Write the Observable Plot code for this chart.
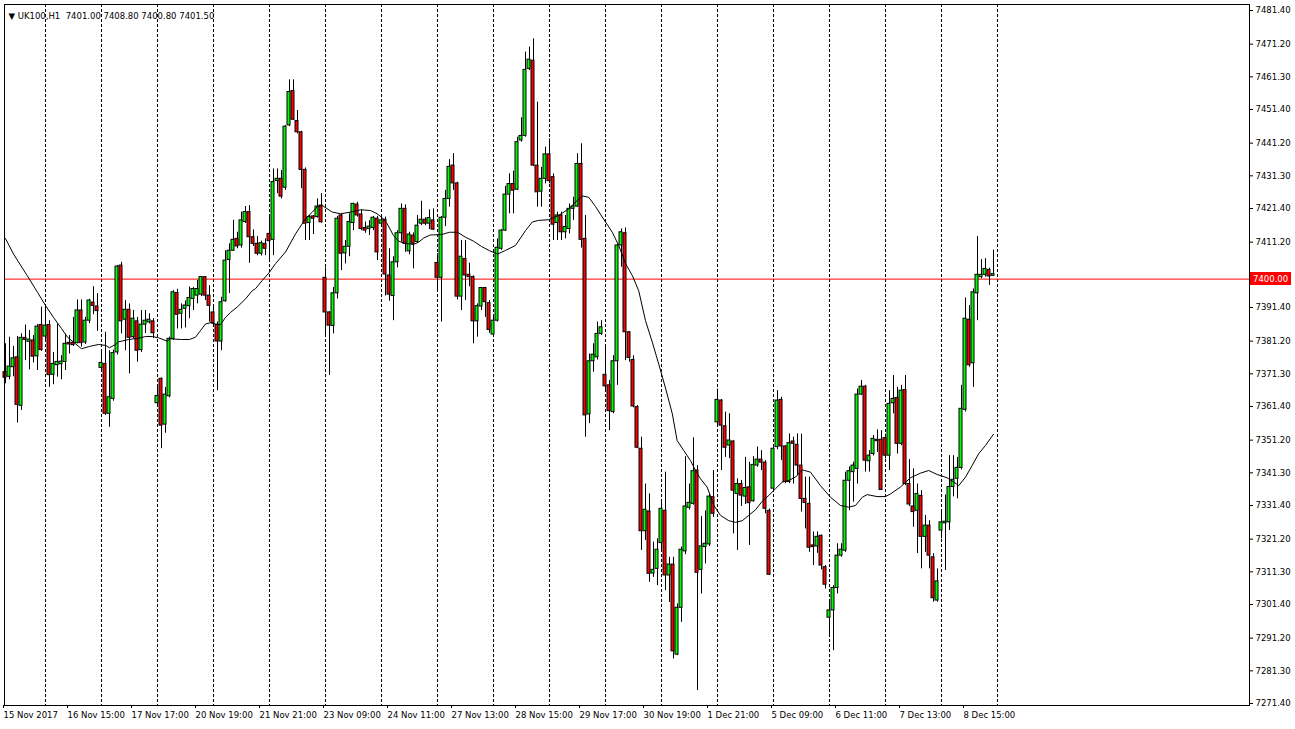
<!DOCTYPE html>
<html><head><meta charset="utf-8">
<script src="https://cdn.jsdelivr.net/npm/d3@7"></script>
<script src="https://cdn.jsdelivr.net/npm/@observablehq/plot@0.6"></script>
<style>body{margin:0;background:#fff;overflow:hidden}</style>
</head><body><div id="chart"></div>
<script>
const openP = [
7371.8,7370.4,7373.3,7376.3,7361.6,7382.2,7381.0,7381.4,7376.6,7386.1,
7382.6,7386.1,7371.0,7373.9,7374.2,7374.9,7380.7,7380.7,7380.6,7390.5,
7380.8,7387.4,7392.9,7391.7,7373.1,7374.3,7359.2,7363.7,7377.8,7404.1,
7387.7,7390.7,7382.4,7387.2,7378.5,7386.2,7386.9,7387.2,7362.4,7369.8,
7355.9,7364.5,7381.9,7395.8,7389.5,7391.0,7391.8,7394.0,7395.0,7395.3,
7400.6,7395.0,7389.9,7386.1,7381.1,7393.3,7405.8,7408.6,7412.2,7410.2,
7417.3,7420.3,7412.7,7410.7,7407.7,7410.7,7413.7,7411.9,7429.7,7430.4,
7427.7,7446.6,7457.0,7447.9,7444.5,7433.1,7417.0,7419.0,7418.8,7422.3,
7400.4,7389.9,7385.8,7395.7,7419.3,7407.8,7409.8,7417.0,7422.6,7419.6,
7415.5,7415.2,7415.5,7418.3,7416.8,7418.0,7401.1,7394.9,7405.1,7413.9,
7421.3,7408.4,7413.2,7411.2,7416.8,7418.0,7416.8,7417.8,7404.9,7400.4,
7418.6,7424.3,7434.4,7429.0,7394.7,7406.1,7401.3,7400.6,7387.2,7391.7,
7397.3,7392.7,7383.2,7387.4,7409.2,7414.7,7425.6,7428.8,7427.1,7442.0,
7443.4,7463.7,7466.2,7434.4,7426.5,7430.4,7437.8,7430.9,7417.0,7419.3,
7414.2,7415.2,7421.3,7422.0,7434.9,7412.2,7359.0,7375.1,7376.3,7383.4,
7371.0,7367.8,7359.7,7375.1,7410.2,7413.9,7383.9,7375.5,7361.2,7348.6,
7323.6,7329.6,7310.8,7312.2,7320.0,7329.8,7310.2,7313.5,7286.2,7300.4,
7317.5,7330.7,7331.9,7342.0,7311.9,7318.8,7319.6,7333.9,7356.6,7363.2,
7355.4,7349.6,7350.8,7334.9,7337.9,7334.1,7336.9,7332.7,7343.5,7345.3,
7344.4,7329.8,7336.5,7349.1,7363.4,7349.3,7338.5,7350.8,7349.8,7343.5,
7333.4,7331.9,7319.3,7319.0,7322.2,7312.7,7297.4,7299.6,7306.4,7316.2,
7317.7,7338.9,7341.5,7342.5,7365.0,7367.4,7344.8,7347.0,7351.3,7351.3,
7351.8,7346.5,7362.4,7364.0,7350.1,7366.4,7337.9,7331.1,7329.8,7334.3,
7321.9,7325.3,7315.7,7302.6,7323.8,7326.0,7326.3,7337.0,7339.5,7342.8,
7360.4,7387.7,7374.5,7395.7,7400.6,7401.3,7402.8,7401.0];
const highP = [
7380.4,7382.4,7379.6,7382.6,7383.4,7386.1,7384.4,7382.9,7386.2,7391.5,
7392.0,7387.4,7377.8,7386.4,7376.8,7383.4,7382.9,7388.4,7393.7,7393.7,
7388.4,7393.9,7397.7,7395.6,7378.0,7383.9,7378.3,7378.5,7404.1,7405.1,
7393.5,7392.5,7390.5,7388.4,7390.5,7390.5,7389.5,7388.0,7367.5,7370.0,
7367.2,7382.4,7396.5,7396.9,7392.5,7393.4,7397.6,7397.5,7399.6,7400.8,
7400.8,7398.0,7392.0,7387.0,7394.5,7408.6,7410.7,7417.8,7414.2,7420.3,
7422.0,7422.3,7414.9,7412.9,7411.5,7412.2,7418.8,7433.4,7433.4,7432.9,
7446.5,7460.4,7460.4,7451.1,7444.8,7433.7,7419.3,7419.3,7424.3,7425.9,
7403.4,7390.1,7397.5,7419.0,7419.6,7411.7,7419.8,7423.0,7423.3,7421.0,
7417.3,7417.7,7419.0,7419.0,7419.3,7418.8,7409.2,7406.8,7414.7,7422.8,
7422.5,7414.2,7414.0,7419.3,7423.6,7418.6,7421.0,7421.3,7407.7,7419.0,
7426.9,7436.2,7438.0,7429.4,7411.7,7411.7,7404.8,7401.0,7392.5,7397.5,
7397.5,7393.5,7388.4,7412.2,7415.0,7428.1,7431.9,7432.7,7443.0,7448.9,
7468.8,7470.3,7472.8,7453.6,7433.9,7440.0,7442.5,7431.9,7420.3,7420.3,
7419.3,7422.8,7424.8,7438.0,7441.0,7419.3,7377.3,7380.4,7387.0,7387.4,
7380.0,7369.3,7376.8,7410.6,7415.2,7415.5,7384.0,7376.8,7361.7,7352.1,
7337.9,7334.9,7320.3,7321.3,7332.9,7341.5,7315.7,7315.7,7301.6,7318.8,
7346.2,7337.9,7351.9,7343.5,7328.1,7329.8,7334.9,7342.0,7366.7,7363.5,
7359.7,7359.2,7351.0,7339.5,7339.0,7346.0,7344.5,7346.2,7349.1,7348.0,
7345.0,7330.3,7349.3,7366.2,7364.2,7349.5,7353.1,7352.1,7353.1,7353.0,
7340.0,7340.0,7323.4,7323.4,7322.5,7313.2,7302.6,7307.1,7319.8,7319.8,
7341.5,7343.1,7344.5,7366.7,7369.3,7367.8,7348.0,7352.6,7354.3,7354.1,
7353.0,7366.2,7370.8,7367.2,7367.8,7370.8,7345.3,7342.5,7337.9,7335.9,
7328.4,7326.8,7316.8,7312.2,7329.8,7334.6,7346.5,7346.5,7346.0,7367.8,
7394.3,7392.0,7397.0,7412.9,7405.9,7406.2,7403.3,7408.8];
const lowP = [
7368.3,7369.5,7370.4,7356.4,7360.2,7375.3,7372.5,7374.6,7372.3,7378.1,
7381.0,7367.2,7368.0,7370.3,7369.5,7372.3,7377.3,7379.6,7380.4,7379.4,
7380.2,7386.5,7389.2,7384.2,7372.0,7358.7,7355.1,7363.0,7377.0,7383.4,
7378.3,7371.3,7381.9,7374.8,7377.8,7383.5,7386.4,7382.0,7362.0,7348.6,
7353.3,7364.0,7381.5,7384.9,7384.9,7385.2,7388.0,7390.5,7392.5,7394.7,
7393.5,7387.0,7385.4,7366.2,7378.3,7393.0,7395.6,7408.4,7409.2,7409.4,
7416.9,7404.8,7409.9,7407.1,7407.0,7407.1,7405.6,7407.1,7425.9,7424.3,
7426.9,7446.2,7448.1,7444.0,7427.4,7411.7,7411.7,7413.5,7418.5,7417.0,
7382.4,7370.8,7383.4,7394.0,7402.6,7404.6,7406.8,7414.7,7418.8,7414.7,
7413.9,7413.2,7414.7,7405.6,7416.5,7394.9,7393.3,7387.4,7403.4,7411.2,
7408.1,7407.4,7403.1,7410.9,7416.2,7416.2,7415.0,7414.7,7396.0,7387.0,
7415.9,7421.8,7426.9,7393.7,7390.5,7393.5,7397.7,7380.4,7382.4,7390.5,
7388.4,7383.6,7382.4,7387.0,7408.7,7414.5,7419.8,7419.8,7426.9,7441.5,
7443.0,7463.2,7434.1,7421.8,7421.8,7428.9,7428.9,7411.7,7411.7,7411.7,
7412.2,7413.7,7417.8,7421.8,7409.4,7352.1,7356.2,7371.8,7375.5,7382.9,
7366.0,7354.1,7359.2,7367.8,7403.6,7375.3,7374.8,7361.0,7348.6,7317.8,
7320.8,7308.1,7309.6,7307.1,7318.0,7305.6,7302.0,7284.9,7285.9,7296.0,
7316.5,7330.0,7331.5,7275.3,7304.6,7313.7,7319.0,7327.8,7355.0,7342.0,
7346.0,7345.6,7322.8,7317.8,7331.1,7331.7,7319.3,7332.4,7343.0,7342.0,
7328.9,7310.2,7336.0,7348.3,7345.0,7338.0,7338.0,7337.9,7340.5,7329.4,
7324.3,7317.2,7313.2,7316.9,7311.9,7306.1,7291.5,7287.4,7304.6,7315.7,
7317.2,7329.8,7332.4,7337.9,7364.8,7341.5,7341.5,7346.4,7347.5,7336.0,
7345.5,7342.0,7359.2,7347.0,7349.5,7337.4,7331.1,7324.8,7316.8,7312.2,
7317.2,7312.2,7302.1,7302.1,7321.3,7311.7,7323.8,7334.0,7333.4,7342.2,
7359.7,7373.3,7367.2,7387.4,7400.1,7400.6,7398.1,7400.8];
const closeP = [
7370.1,7373.5,7376.0,7361.9,7382.2,7381.6,7381.7,7376.5,7385.6,7378.5,
7385.9,7370.9,7374.3,7374.9,7375.0,7380.4,7380.2,7380.0,7390.5,7380.6,
7387.4,7393.5,7391.9,7390.3,7374.6,7359.2,7364.2,7377.6,7403.8,7387.2,
7390.7,7382.2,7388.0,7378.3,7386.2,7387.4,7387.7,7383.6,7364.6,7355.6,
7365.0,7381.9,7396.0,7389.2,7390.7,7392.0,7394.3,7397.0,7397.0,7400.6,
7395.0,7391.9,7386.6,7381.1,7393.0,7405.6,7408.6,7411.9,7409.9,7417.8,
7420.3,7412.7,7410.7,7407.7,7410.9,7409.2,7411.5,7429.4,7430.4,7425.0,
7446.2,7456.7,7448.3,7444.5,7433.1,7416.8,7418.8,7418.3,7422.0,7417.2,
7389.9,7385.9,7395.7,7418.3,7407.7,7409.8,7417.3,7422.8,7419.3,7415.2,
7414.7,7415.9,7418.6,7408.1,7417.8,7401.4,7395.3,7405.1,7413.9,7421.3,
7410.7,7413.5,7410.7,7416.2,7418.0,7416.8,7418.5,7415.0,7400.4,7418.6,
7424.3,7434.0,7429.0,7394.7,7406.8,7401.1,7400.6,7387.2,7391.8,7397.3,
7393.0,7384.6,7387.4,7409.5,7414.7,7425.6,7428.8,7426.8,7441.5,7443.4,
7463.4,7466.5,7434.4,7426.3,7430.4,7437.8,7429.7,7416.5,7419.3,7414.2,
7415.8,7421.3,7422.0,7434.9,7411.9,7358.7,7375.1,7377.1,7383.4,7385.4,
7367.5,7360.0,7375.1,7410.2,7414.2,7383.9,7376.1,7361.4,7348.9,7323.6,
7330.1,7310.7,7311.9,7318.0,7330.4,7310.2,7313.5,7287.2,7300.4,7318.0,
7331.1,7332.2,7341.8,7311.0,7319.0,7319.8,7334.1,7328.9,7363.4,7355.6,
7348.9,7351.1,7335.9,7337.9,7334.4,7336.7,7332.1,7343.7,7345.3,7344.4,
7330.4,7310.4,7348.6,7363.2,7349.3,7338.5,7350.3,7350.1,7343.5,7333.4,
7332.2,7318.6,7318.8,7321.9,7313.2,7307.4,7299.6,7306.4,7316.2,7318.0,
7338.9,7341.8,7343.5,7365.0,7367.4,7345.0,7346.5,7351.6,7350.9,7336.1,
7346.5,7362.2,7363.7,7350.1,7366.2,7337.9,7331.7,7329.4,7334.9,7321.9,
7325.3,7316.2,7303.3,7308.4,7326.3,7326.5,7337.0,7339.2,7342.8,7360.7,
7388.0,7373.9,7396.0,7401.3,7401.3,7403.1,7400.8,7401.5];

// moving average line, read at sampled bar positions
const maBar = [0,2,5.4,8,10,12,14,15.5,17,19,21,23.3,25,26,27.5,28.3,30.8,33.3,35,36.7,38.3,40.4,41.2,44,46,47.5,48.75,50,51.25,52.5,53.75,55,56.25,57.9,60,61.7,62.5,64.2,66,67.5,70,72.5,75,76.7,78,79.2,81.7,83.75,86.25,88.75,91.25,92.9,94.2,95.4,97,98.3,99.6,102,103.3,104.6,106.25,107,109,111,113,115,117,119,121,123,125,127.5,130,131.7,133.3,135.8,138.3,140.8,142.9,144.2,145.8,147.5,150,151.7,153.3,155,156.7,158.3,160,161.7,163.3,165,166.7,167.9,169.6,171.25,172.5,173.75,175.4,177.1,178.75,180.8,182.5,184.2,185.8,187.5,189.2,190.8,192.5,194.2,195.8,197.5,199.2,201.25,203.75,206.25,208.75,210.8,212.5,214.2,215.4,217.9,220,221.25,223.75,226.25,228.75,230.8,232.9,235.4,237.1,238.3,240,241.7,243.3,245,247];
const maVal = [7412.3,7407.6,7401.1,7396.0,7392.0,7388.4,7385.0,7382.4,7380.9,7378.9,7379.6,7380.2,7379.9,7379.2,7380.2,7381.0,7381.7,7382.1,7382.6,7382.6,7382.2,7381.2,7381.9,7381.7,7381.7,7382.4,7384.4,7386.4,7386.8,7386.4,7386.2,7388.4,7389.9,7391.5,7394.0,7396.5,7397.1,7399.6,7402.1,7404.7,7408.2,7413.7,7418.3,7420.3,7422.0,7422.3,7420.3,7419.8,7420.3,7421.0,7420.8,7419.8,7418.6,7416.8,7413.2,7411.5,7410.9,7410.5,7411.2,7412.5,7413.4,7413.4,7413.5,7414.2,7414.2,7412.7,7411.5,7409.9,7408.6,7407.6,7408.7,7410.2,7414.7,7417.3,7417.8,7418.0,7419.3,7421.3,7423.8,7425.2,7424.8,7422.0,7417.3,7414.2,7410.2,7404.7,7401.1,7396.5,7387.4,7380.9,7374.3,7367.0,7359.2,7351.1,7348.0,7345.0,7342.0,7339.5,7337.0,7331.4,7328.4,7326.8,7326.3,7326.8,7328.4,7330.1,7332.7,7334.4,7336.5,7338.5,7339.0,7340.0,7342.2,7341.5,7337.4,7333.9,7331.4,7330.9,7331.4,7333.9,7334.7,7334.1,7334.1,7334.9,7337.0,7339.8,7341.2,7342.0,7340.8,7339.8,7338.5,7337.4,7340.0,7343.6,7347.1,7349.6,7353.0];

const gridBars = [10,24,38,52,66,80,94,108,122,136,150,164,178,192,206,220,234,248];
const timeBars = [0,16,32,48,64,80,96,112,128,144,160,176,192,208,224,240];
const timeLabels = ["15 Nov 2017","16 Nov 15:00","17 Nov 17:00","20 Nov 19:00","21 Nov 21:00","23 Nov 09:00","24 Nov 11:00","27 Nov 13:00","28 Nov 15:00","29 Nov 17:00","30 Nov 19:00","1 Dec 21:00","5 Dec 09:00","6 Dec 11:00","7 Dec 13:00","8 Dec 15:00"];
const priceTicks = [7481.4,7471.2,7461.3,7451.4,7441.2,7431.3,7421.4,7411.2,7391.4,7381.2,7371.3,7361.4,7351.2,7341.3,7331.4,7321.2,7311.3,7301.4,7291.2,7281.3,7271.4];
const priceLabels = ["7481.40","7471.20","7461.30","7451.40","7441.20","7431.30","7421.40","7411.20","7391.40","7381.20","7371.30","7361.40","7351.20","7341.30","7331.40","7321.20","7311.30","7301.40","7291.20","7281.30","7271.40"];
const levelPrice = 7400.00;
const titleText = "\u25BC UK100,H1  7401.00 7408.80 7400.80 7401.50";

const bars = openP.map((o, i) => ({i, open: o, high: highP[i], low: lowP[i], close: closeP[i]}));
const ma = maBar.map((b, k) => ({b, v: maVal[k]}));

const FONT = "'DejaVu Sans', Tahoma, sans-serif";
const FS = 8.5;

function priceTag(index, scales, values, dimensions) {
  const y = Math.round(scales.y(levelPrice));
  const x = dimensions.width - dimensions.marginRight;
  const g = d3.create("svg:g");
  g.append("rect").attr("x", x + 1).attr("y", y - 7).attr("width", 41).attr("height", 13).attr("fill", "#ff0000");
  g.append("text").attr("x", x + 4).attr("y", y).attr("dy", "0.32em")
    .attr("text-anchor", "start")
    .attr("fill", "#ffffff").attr("font-family", FONT).attr("font-size", FS).text(levelPrice.toFixed(2));
  return g.node();
}

const chart = Plot.plot({
  width: 1295,
  height: 729,
  marginLeft: 4,
  marginRight: 46,
  marginTop: 4,
  marginBottom: 24,
  style: {fontFamily: FONT, fontSize: FS + "px", background: "#ffffff", color: "#000000", overflow: "visible"},
  x: {type: "linear", domain: [-0.25, 311], axis: null},
  y: {type: "linear", domain: [7270.79, 7483.22], axis: null},
  marks: [
    Plot.ruleX(gridBars, {x: d => d, stroke: "#000000", strokeDasharray: "3,2", strokeWidth: 1}),
    Plot.ruleY([levelPrice], {y: d => d, stroke: "#ff0000", strokeWidth: 1}),
    Plot.ruleX(bars, {x: "i", y1: "low", y2: "high", stroke: "#000000", strokeWidth: 1}),
    Plot.rect(bars, {
      x1: d => d.i - 0.5, x2: d => d.i + 0.25,
      y1: "open", y2: "close",
      fill: d => d.close >= d.open ? "#00ff00" : "#ff0000",
      stroke: "#000000", strokeWidth: 1
    }),
    Plot.line(ma, {x: "b", y: "v", stroke: "#000000", strokeWidth: 1}),
    Plot.frame({stroke: "#000000"}),
    Plot.axisY(priceTicks, {anchor: "right", tickSize: 3, tickPadding: 3,
      tickFormat: d => priceLabels[priceTicks.indexOf(d)], fontSize: FS}),
    Plot.axisX(timeBars, {anchor: "bottom", tickSize: 3, tickPadding: 3, textAnchor: "start", dx: -2,
      tickFormat: d => timeLabels[timeBars.indexOf(d)], fontSize: FS}),
    Plot.text([titleText], {frameAnchor: "top-left", dx: 4, dy: 8, textAnchor: "start", fontSize: FS, fill: "#000000"}),
    priceTag
  ]
});
document.getElementById("chart").appendChild(chart);
</script>
</body></html>
